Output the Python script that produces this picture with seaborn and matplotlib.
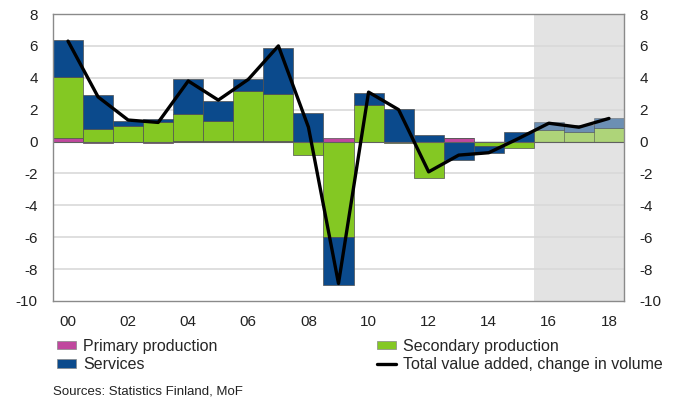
import numpy as np
import pandas as pd
import matplotlib
matplotlib.use("Agg")
import matplotlib.pyplot as plt
import seaborn as sns
from matplotlib.patches import Patch
from matplotlib.lines import Line2D

years = list(range(2000, 2019))
primary = [0.25, -0.1, 0.0, -0.1, 0.05, 0.05, 0.05, 0.05, 0.0, 0.2, 0.0, -0.05, 0.0, 0.25, 0.0, 0.0, 0.0, 0.0, 0.0]
secondary = [3.8, 0.8, 1.0, 1.2, 1.67, 1.25, 3.1, 2.95, -0.85, -6.0, 2.3, -0.05, -2.3, 0.0, -0.3, -0.42, 0.73, 0.57, 0.84]
services = [2.3, 2.1, 0.3, 0.2, 2.2, 1.25, 0.75, 2.85, 1.8, -3.0, 0.75, 2.05, 0.42, -1.15, -0.4, 0.6, 0.47, 0.48, 0.63]
total = [6.3, 2.8, 1.35, 1.2, 3.8, 2.6, 3.9, 6.0, 0.9, -8.9, 3.1, 2.0, -1.9, -0.85, -0.7, 0.2, 1.15, 0.9, 1.45]
xtick_labels = ["00", "02", "04", "06", "08", "10", "12", "14", "16", "18"]
forecast_start = 2016

series_names = ["Primary production", "Secondary production", "Services"]
series_vals = [primary, secondary, services]
colors = ["#c0489e", "#84c823", "#0b4a8c"]

sns.set_theme(style="white")
plt.rcParams["font.family"] = ["Liberation Sans", "DejaVu Sans"]
plt.rcParams["axes.unicode_minus"] = False

fig = plt.figure(figsize=(6.82, 4.03), dpi=100)
ax = fig.add_axes([53 / 682, 1 - 301 / 403, (624 - 53) / 682, (301 - 14) / 403])

# forecast shading
ax.axvspan(forecast_start - 0.5, years[-1] + 0.5, color="#e3e3e3", zorder=0, lw=0)
for yv in np.arange(-8, 8, 2):
    ax.axhline(yv, color="#d9d9d9", lw=1.2, zorder=0.5)

# diverging stacks
pos_b = np.zeros(len(years))
neg_b = np.zeros(len(years))
for name, vals, col in zip(series_names, series_vals, colors):
    v = np.array(vals, dtype=float)
    bottom = np.where(v >= 0, pos_b, neg_b)
    df = pd.DataFrame({"year": years, "value": v})
    n_before = len(ax.patches)
    sns.barplot(data=df, x="year", y="value", native_scale=True, width=1.0,
                color=col, saturation=1, bottom=bottom, edgecolor="#505050",
                linewidth=0.5, ax=ax, zorder=2, errorbar=None)
    for p in ax.patches[n_before:]:
        if p.get_x() + p.get_width() / 2 >= forecast_start - 0.01:
            p.set_alpha(0.55)
    pos_b = pos_b + np.where(v >= 0, v, 0)
    neg_b = neg_b + np.where(v < 0, v, 0)

ax.axhline(0, color="#606060", lw=0.8, zorder=2.5)

dft = pd.DataFrame({"year": years, "total": total})
sns.lineplot(data=dft, x="year", y="total", color="black", lw=2.4, ax=ax, zorder=3)

ax.set_xlim(years[0] - 0.5, years[-1] + 0.5)
ax.set_ylim(-10, 8)
ax.set_yticks(np.arange(-10, 9, 2))
ax.set_xticks(years[::2])
ax.set_xticklabels(xtick_labels)
ax.set_xlabel("")
ax.set_ylabel("")
ax.tick_params(axis="both", length=0, labelsize=11, colors="#222222")
ax.tick_params(axis="x", pad=10)
ax.tick_params(axis="y", pad=11)
for sp in ax.spines.values():
    sp.set_color("#8a8a8a")
    sp.set_linewidth(1.0)

ax2 = ax.twinx()
ax2.set_ylim(-10, 8)
ax2.set_yticks(np.arange(-10, 9, 2))
ax2.tick_params(axis="y", length=0, labelsize=11, colors="#222222", pad=11)
ax2.grid(False)
for sp in ax2.spines.values():
    sp.set_visible(False)

leg_kw = dict(loc="upper left", frameon=False, fontsize=11.5, handlelength=1.2,
              handleheight=0.42, handletextpad=0.45, labelspacing=0.2,
              borderaxespad=0, borderpad=0)
h1 = [Patch(facecolor=colors[0], edgecolor="#888888", lw=0.5),
      Patch(facecolor=colors[2], edgecolor="#888888", lw=0.5)]
l1 = ["Primary production", "Services"]
h2 = [Patch(facecolor=colors[1], edgecolor="#888888", lw=0.5),
      Line2D([0], [0], color="black", lw=2.4)]
l2 = ["Secondary production", "Total value added, change in volume"]
fig.legend(h1, l1, bbox_to_anchor=(57 / 682, 1 - 339 / 403), **leg_kw)
fig.legend(h2, l2, bbox_to_anchor=(377 / 682, 1 - 339 / 403), **leg_kw)

fig.text(53 / 682, 1 - 392 / 403, "Sources: Statistics Finland, MoF", fontsize=9.5,
         color="#222222", va="center")

fig.savefig("out.png", dpi=100)
